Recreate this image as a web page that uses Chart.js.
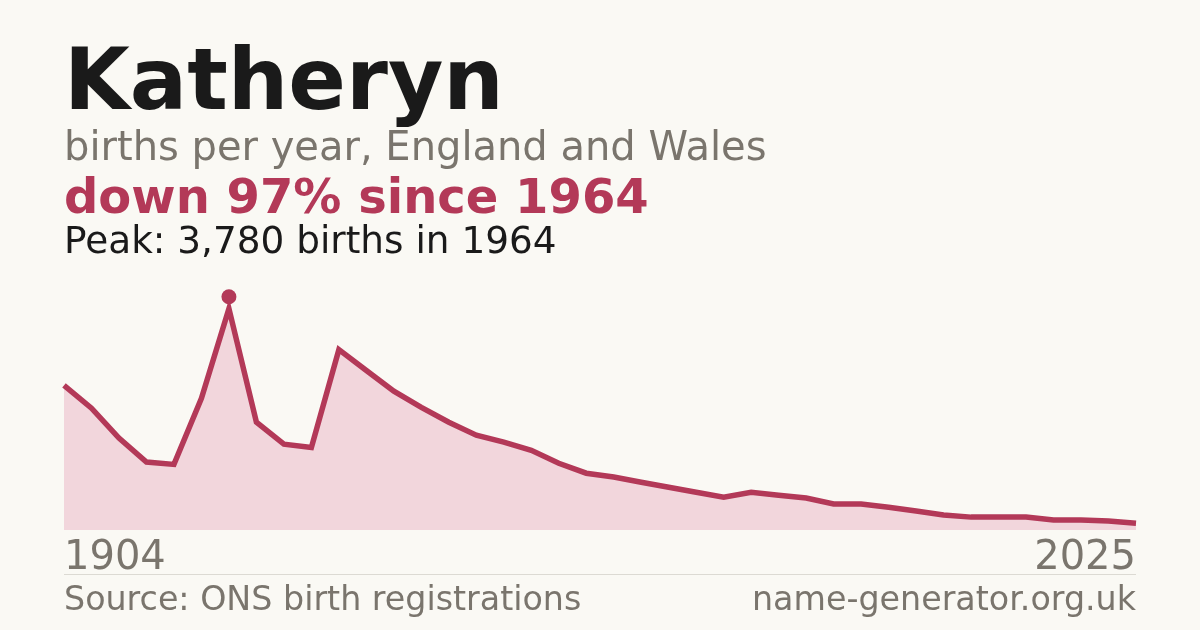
<!DOCTYPE html>
<html>
<head>
<meta charset="utf-8">
<script src="https://cdn.jsdelivr.net/npm/chart.js@4/dist/chart.umd.min.js"></script>
<style>
  html, body { margin: 0; padding: 0; background: #faf9f4; }
  body { width: 1200px; height: 630px; position: relative; overflow: hidden; font-family: "DejaVu Sans", sans-serif; }
  #wrap { position: absolute; left: 0; top: 0; width: 1200px; height: 630px; }
  .t { position: absolute; left: 64px; white-space: nowrap; line-height: 1; }
  #title { font-weight: bold; font-size: 85px; color: #1a1a1a; top: 37px; }
  #sub { font-size: 40px; color: #7a756d; top: 126px; }
  #trend { font-weight: bold; font-size: 48px; color: #b33958; top: 172px; }
  #peak { font-size: 37.4px; color: #1a1a1a; top: 222px; }
  #rule { position: absolute; left: 64px; width: 1072px; top: 574px; height: 1px; background: #dcdad3; }
  #src { font-size: 33.3px; color: #7a756d; top: 582px; }
  #site { position: absolute; right: 64px; font-size: 33.3px; color: #7a756d; top: 582px; line-height: 1; white-space: nowrap; }
</style>
</head>
<body>
<div id="wrap"><canvas id="c" width="1200" height="630"></canvas></div>
<div class="t" id="title">Katheryn</div>
<div class="t" id="sub">births per year, England and Wales</div>
<div class="t" id="trend">down 97% since 1964</div>
<div class="t" id="peak">Peak: 3,780 births in 1964</div>
<div id="rule"></div>
<div class="t" id="src">Source: ONS birth registrations</div>
<div id="site">name-generator.org.uk</div>
<script>
const years = ["1904","1914","1924","1934","1944","1954","1964","1974","1984","1994",
  "1996","1997","1998","1999","2000","2001","2002","2003","2004","2005",
  "2006","2007","2008","2009","2010","2011","2012","2013","2014","2015",
  "2016","2017","2018","2019","2020","2021","2022","2023","2024","2025"];
const births = [2470,2080,1570,1160,1120,2250,3780,1840,1465,1410,
  3080,2725,2370,2095,1840,1620,1500,1360,1140,970,
  905,815,730,645,560,645,595,545,445,445,
  390,325,255,220,220,220,170,170,155,115];
const peakIndex = 6;
const yMax = 4270;

const RED = "#b33958";

const peakDot = {
  id: "peakDot",
  afterDatasetsDraw(chart) {
    const meta = chart.getDatasetMeta(0);
    const p = meta.data[peakIndex];
    const ctx = chart.ctx;
    ctx.save();
    ctx.fillStyle = RED;
    ctx.beginPath();
    ctx.arc(p.x, p.y - 12, 7.5, 0, Math.PI * 2);
    ctx.fill();
    ctx.restore();
  }
};

new Chart(document.getElementById("c"), {
  type: "line",
  data: {
    labels: years,
    datasets: [{
      data: births,
      borderColor: RED,
      borderWidth: 5.5,
      backgroundColor: "#f2d6dc",
      fill: "origin",
      pointRadius: 0,
      tension: 0,
      borderJoinStyle: "miter"
    }]
  },
  options: {
    responsive: false,
    animation: false,
    devicePixelRatio: 1,
    layout: { padding: { left: 64, right: 64, top: 280, bottom: 42 } },
    plugins: { legend: { display: false }, tooltip: { enabled: false } },
    scales: {
      x: {
        offset: false,
        grid: { display: false, drawTicks: false },
        border: { display: false },
        ticks: {
          autoSkip: false,
          maxRotation: 0,
          align: "inner",
          padding: 5,
          color: "#7a756d",
          font: { family: "DejaVu Sans", size: 40 },
          callback: function(v, i) { return (i === 0 || i === years.length - 1) ? years[i] : ""; }
        }
      },
      y: { display: false, min: 0, max: yMax }
    }
  },
  plugins: [peakDot]
});
</script>
</body>
</html>
